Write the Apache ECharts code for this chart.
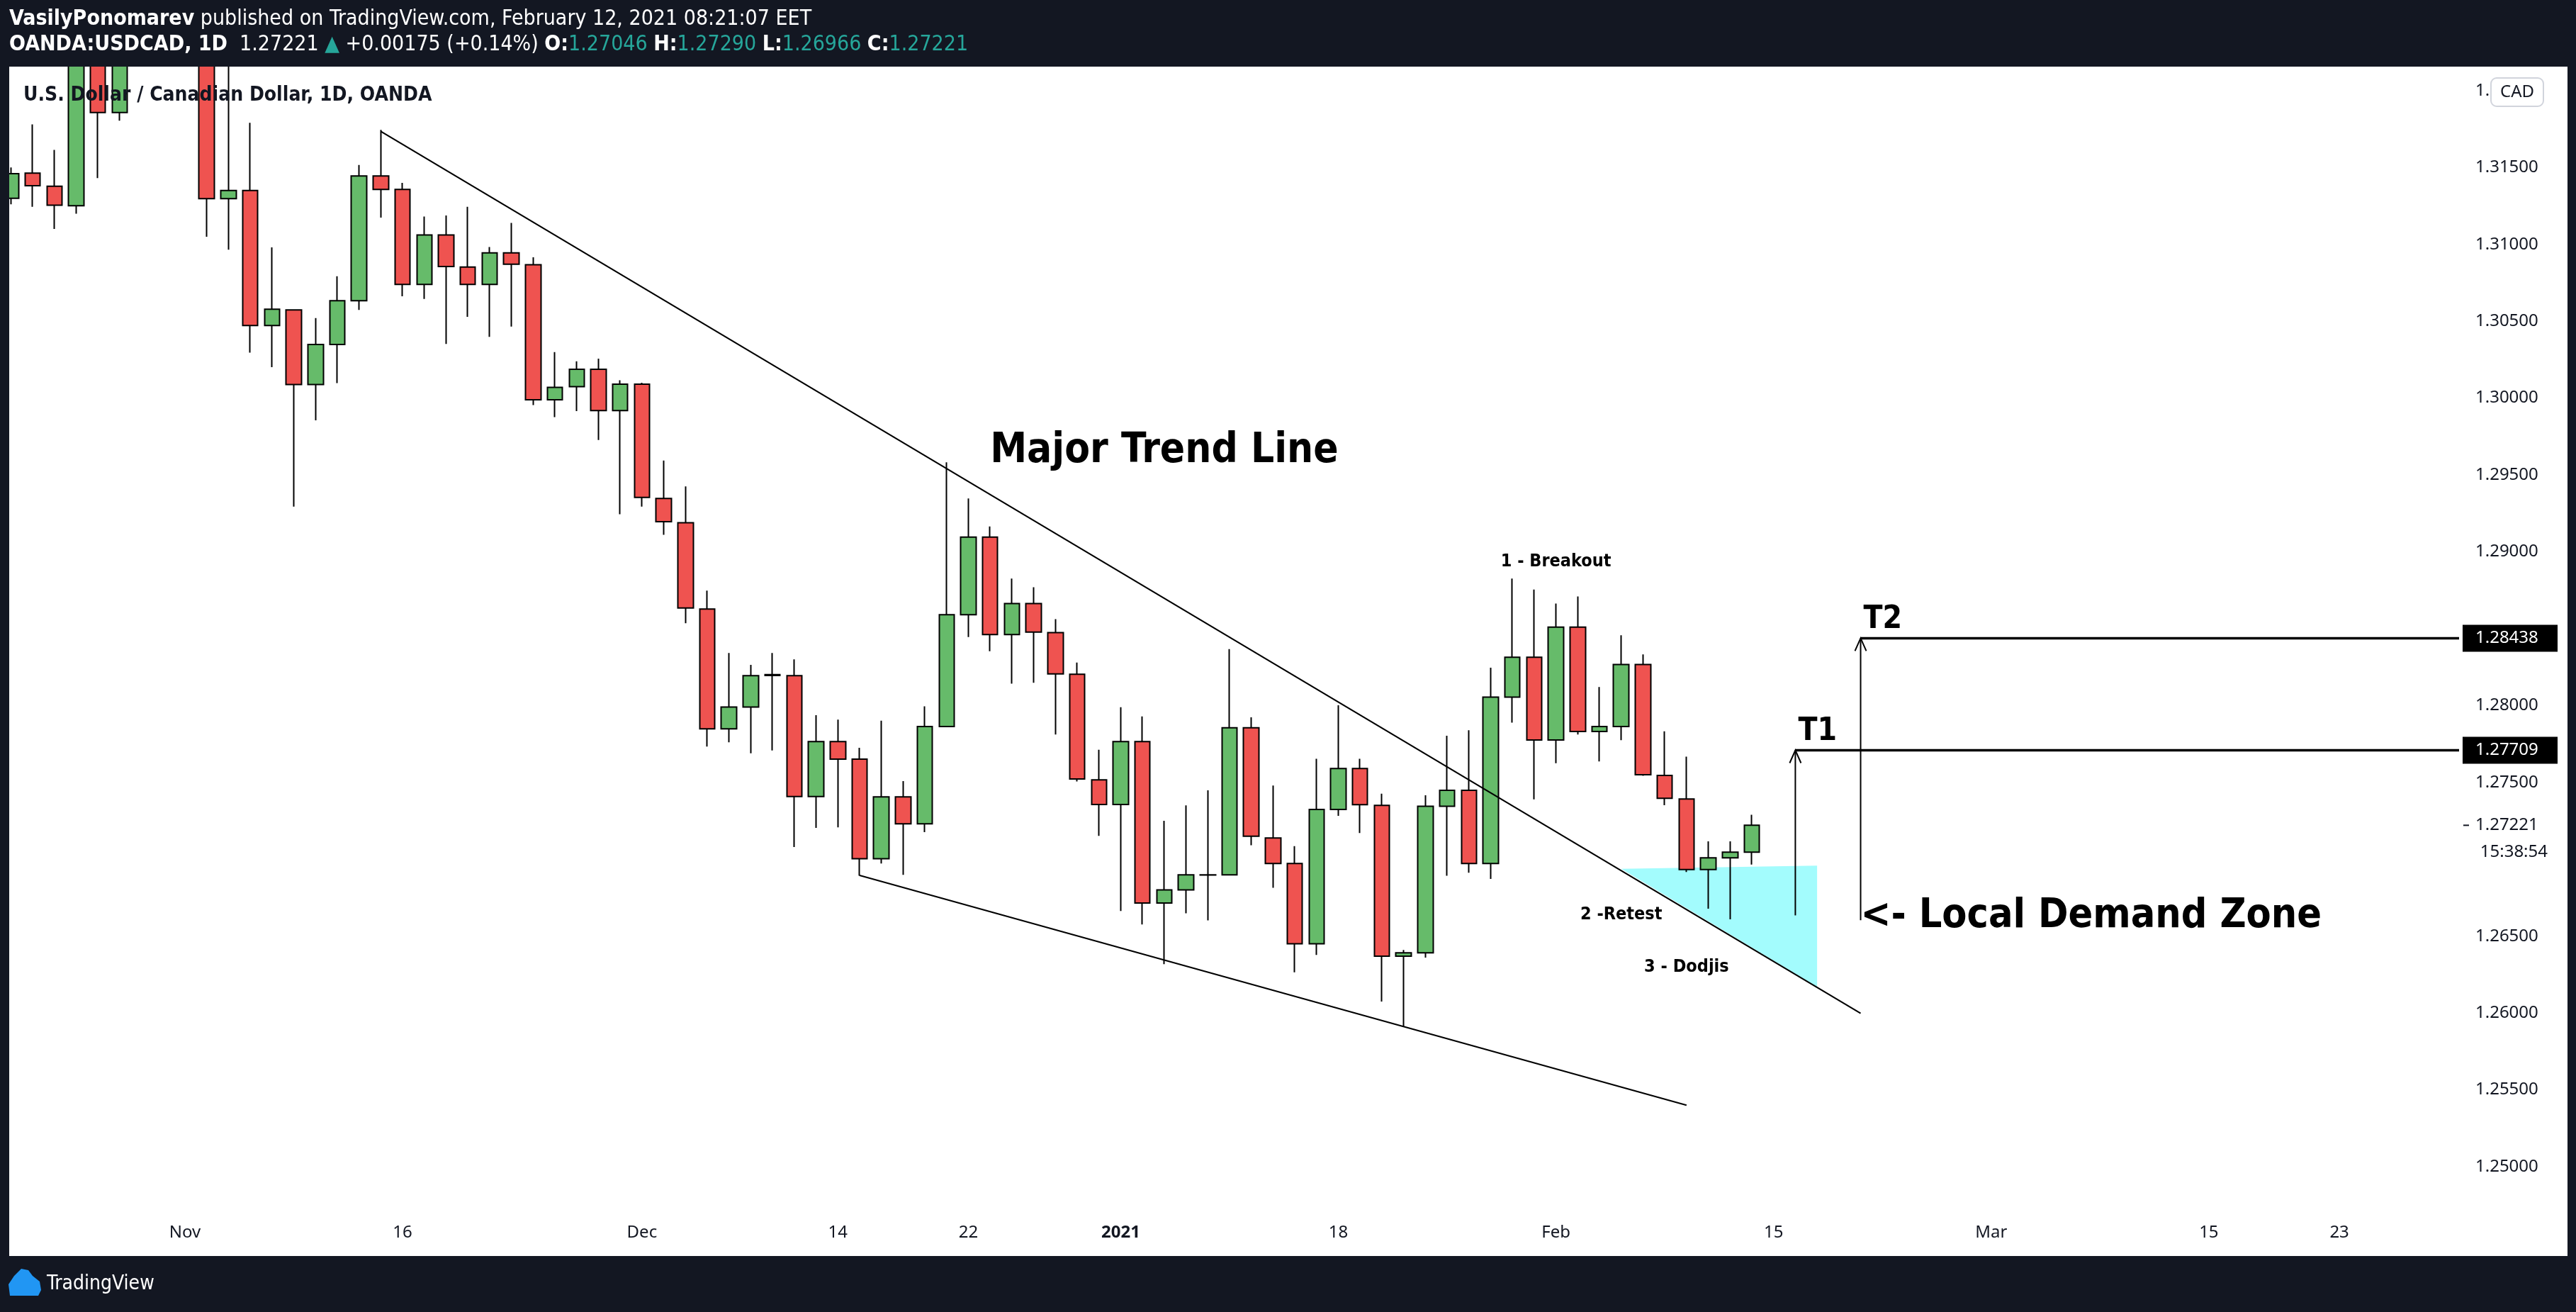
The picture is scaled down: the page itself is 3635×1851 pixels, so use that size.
<!DOCTYPE html>
<html><head><meta charset="utf-8">
<script src="https://cdn.jsdelivr.net/npm/echarts@6/dist/echarts.min.js"></script>
<style>html,body{margin:0;padding:0;background:#fff}#c{width:3635px;height:1851px}</style>
</head><body><div id="c"></div>
<script>
// ---- data ----
const opens  = [1.3130,1.31463,1.31378,1.31251,1.3265,1.31858,1.3268,1.3310,1.3320,1.3280,1.31297,1.31350,1.30472,1.30574,1.30088,1.30349,1.30634,1.31445,1.31357,1.30740,1.31061,1.30853,1.30740,1.30945,1.30867,1.29989,1.30074,1.30187,1.29919,1.30091,1.29347,1.29189,1.28628,1.27849,1.27990,1.28201,1.28194,1.27408,1.27766,1.27651,1.27004,1.27406,1.27231,1.27863,1.28591,1.29096,1.28462,1.28663,1.28475,1.28203,1.27517,1.27356,1.27765,1.26716,1.26801,1.26899,1.26899,1.27855,1.27139,1.26973,1.26450,1.27324,1.27590,1.27350,1.26370,1.26391,1.27345,1.27448,1.26973,1.28055,1.28314,1.27776,1.28510,1.27831,1.27863,1.28267,1.27545,1.27392,1.26933,1.27009,1.27046];
const closes = [1.3146,1.31382,1.31255,1.3245,1.31858,1.3270,1.3305,1.3325,1.3280,1.31297,1.31350,1.30472,1.30578,1.30088,1.30349,1.30634,1.31445,1.31357,1.30740,1.31061,1.30856,1.30740,1.30945,1.30871,1.29989,1.30070,1.30187,1.29919,1.30091,1.29354,1.29196,1.28635,1.27849,1.27990,1.28194,1.28195,1.27408,1.27766,1.27652,1.27004,1.27406,1.27231,1.27863,1.28591,1.29096,1.28462,1.28663,1.28478,1.28206,1.27522,1.27356,1.27765,1.26716,1.26801,1.26899,1.26897,1.27855,1.27150,1.26973,1.26450,1.27324,1.27590,1.27355,1.26370,1.26391,1.27345,1.27448,1.26973,1.28055,1.28314,1.27776,1.28510,1.27831,1.27863,1.28267,1.27550,1.27397,1.26933,1.27009,1.27046,1.27221];
const lows   = [1.3126,1.31244,1.31100,1.3120,1.31431,1.31805,1.3235,1.3262,1.3225,1.31050,1.30966,1.30296,1.30201,1.29294,1.29855,1.30098,1.30574,1.31174,1.30662,1.30645,1.30352,1.30529,1.30398,1.30465,1.29954,1.29876,1.29915,1.29728,1.29245,1.29294,1.29111,1.28536,1.27733,1.27761,1.27690,1.27708,1.27080,1.27204,1.27208,1.26893,1.26973,1.26899,1.27176,1.27863,1.28446,1.28354,1.28142,1.28148,1.27812,1.27506,1.27152,1.26664,1.26576,1.26318,1.26648,1.26603,1.26899,1.27091,1.26814,1.26265,1.26378,1.27282,1.27171,1.26075,1.25911,1.26360,1.26893,1.26912,1.26872,1.27889,1.27390,1.27625,1.27812,1.27637,1.27775,1.27543,1.27352,1.26917,1.26679,1.26609,1.26966];
const highs  = [1.3150,1.31780,1.31615,1.3258,1.3280,1.3290,1.3370,1.3345,1.3345,1.3300,1.3260,1.31791,1.30980,1.30574,1.30521,1.30793,1.31516,1.31745,1.31400,1.31181,1.31188,1.31244,1.30983,1.31139,1.30916,1.30299,1.30239,1.30257,1.30116,1.30100,1.29594,1.29425,1.28748,1.28342,1.28265,1.28342,1.28300,1.27937,1.27908,1.27725,1.27902,1.27509,1.27995,1.29582,1.29347,1.29165,1.28826,1.28769,1.28562,1.28280,1.27712,1.27989,1.27929,1.27250,1.27350,1.27448,1.28367,1.27923,1.27480,1.27086,1.27654,1.28002,1.27654,1.27427,1.26410,1.27416,1.27804,1.27839,1.28246,1.28826,1.28755,1.28663,1.28710,1.28121,1.28457,1.28333,1.27832,1.27667,1.27117,1.27117,1.27290];
const holidays = ['2020-12-25','2021-01-01'];
const firstDay = '2020-10-21', barCount = 113;
const xTickLabels = [['2020-11-02','Nov'],['2020-11-16','16'],['2020-12-01','Dec'],['2020-12-14','14'],['2020-12-22','22'],['2021-01-04','2021'],['2021-01-18','18'],['2021-02-01','Feb'],['2021-02-15','15'],['2021-03-01','Mar'],['2021-03-15','15'],['2021-03-23','23']];
const yTickValues = [1.25,1.255,1.26,1.265,1.275,1.28,1.29,1.295,1.30,1.305,1.31,1.315,1.32];
const lastPrice = 1.27221;

// ---- build categories ----
const dates = [];
{ let d = new Date(firstDay+'T00:00:00Z');
  while (dates.length < barCount) {
    const s = d.toISOString().slice(0,10), wd = d.getUTCDay();
    if (wd!==0 && wd!==6 && !holidays.includes(s)) dates.push(s);
    d.setUTCDate(d.getUTCDate()+1);
  } }
const labelMap = Object.fromEntries(xTickLabels);
const candleData = dates.map((d,i)=> i<opens.length ? [opens[i],closes[i],lows[i],highs[i]] : '-');

// drawing anchors in data space [barIndex, price]
const upperTrend = [[17.05,1.31735],[85.0,1.25998]];
const lowerTrend = [[39.0,1.26895],[77.0,1.25400]];
const zone = [[74.2,1.26938],[83.1,1.26959],[83.1,1.26170]];
const arrows = [{x:82,from:1.26635,to:1.27709,label:'T1'},{x:85,from:1.26604,to:1.28438,label:'T2'}];
const notes = [
  {t:'Major Trend Line',x:53.1,y:1.29652,size:58,bold:true,align:'center'},
  {t:'1 - Breakout',x:70.6,y:1.28936,size:25,bold:true,align:'center'},
  {t:'2 -Retest',x:73.9,y:1.26639,size:25,bold:true,align:'center'},
  {t:'3 - Dodjis',x:77.0,y:1.26297,size:25,bold:true,align:'center'},
  {t:'<- Local Demand Zone',x:85.35,y:1.26628,size:57,bold:true,align:'left'}
];
const FC = '"DejaVu Sans Condensed","DejaVu Sans",sans-serif';

const chart = echarts.init(document.getElementById('c'));
const GRID_RIGHT = 3470;
chart.setOption({
  backgroundColor:'#ffffff',
  animation:false,
  grid:{left:-4,right:3635-GRID_RIGHT,top:94,bottom:140,containLabel:false},
  xAxis:{type:'category',data:dates,boundaryGap:true,
    axisLine:{show:false},axisTick:{show:false},splitLine:{show:false},
    axisLabel:{interval:(i,v)=>labelMap[v]!==undefined,formatter:v=>labelMap[v]==='2021'?'{b|2021}':(labelMap[v]||''),
      color:'#131722',fontFamily:'Noto Sans',fontSize:24,margin:16,rich:{b:{fontWeight:'bold',fontFamily:'Noto Sans',fontSize:24,color:'#131722'}}}},
  yAxis:{type:'value',position:'right',min:1.247005,max:1.321562,scale:true,
    axisLine:{show:false},axisTick:{show:false},splitLine:{show:false},
    axisLabel:{customValues:yTickValues,formatter:v=>v.toFixed(5),color:'#131722',fontFamily:'Noto Sans',fontSize:24,margin:23,align:'left'}},
  series:[
    {type:'custom',z:1,clip:false,data:[[0,0]],renderItem:(p,api)=>({type:'polygon',shape:{points:zone.map(q=>api.coord(q))},style:{fill:'#a3fcfd'}})},
    {type:'candlestick',z:2,data:candleData,barWidth:22,
      itemStyle:{color:'#66bb6a',color0:'#ef5350',borderColor:'#000',borderColor0:'#000',borderColorDoji:'#000',borderWidth:2}},
    {type:'custom',z:3,clip:false,data:[[0,0]],renderItem:(p,api)=>{
      const cs=p.coordSys, right=cs.x+cs.width, ch=[];
      [upperTrend,lowerTrend].forEach(l=>{const a=api.coord(l[0]),b=api.coord(l[1]);
        ch.push({type:'line',shape:{x1:a[0],y1:a[1],x2:b[0],y2:b[1]},style:{stroke:'#000',lineWidth:2.2}});});
      arrows.forEach(ar=>{const a=api.coord([ar.x,ar.from]),b=api.coord([ar.x,ar.to]);
        ch.push({type:'line',shape:{x1:a[0],y1:a[1],x2:b[0],y2:b[1]},style:{stroke:'#000',lineWidth:2}});
        ch.push({type:'polyline',shape:{points:[[b[0]-8,b[1]+18],[b[0],b[1]],[b[0]+8,b[1]+18]]},style:{stroke:'#000',lineWidth:2,fill:null}});
        ch.push({type:'line',shape:{x1:b[0],y1:b[1],x2:right,y2:b[1]},style:{stroke:'#000',lineWidth:3.5}});
        ch.push({type:'text',style:{text:ar.label,x:b[0]+4,y:b[1]-4,font:'bold 44px '+FC,fill:'#000',align:'left',verticalAlign:'bottom'}});
        ch.push({type:'rect',shape:{x:right+5,y:b[1]-19,width:134,height:38},style:{fill:'#000'}});
        ch.push({type:'text',style:{text:ar.to.toFixed(5),x:right+23,y:b[1],font:'24px "Noto Sans"',fill:'#fff',align:'left',verticalAlign:'middle'}});
      });
      notes.forEach(n=>{const a=api.coord([n.x,n.y]);
        ch.push({type:'text',style:{text:n.t,x:a[0],y:a[1],font:(n.bold?'bold ':'')+n.size+'px '+FC,fill:'#000',align:n.align,verticalAlign:'middle'}});});
      const lp=api.coord([0,lastPrice]);
      ch.push({type:'line',shape:{x1:right+6,y1:lp[1],x2:right+14,y2:lp[1]},style:{stroke:'#131722',lineWidth:2}});
      ch.push({type:'text',style:{text:lastPrice.toFixed(5),x:right+23,y:lp[1],font:'24px "Noto Sans"',fill:'#131722',align:'left',verticalAlign:'middle'}});
      ch.push({type:'text',style:{text:'15:38:54',x:right+125,y:lp[1]+38,font:'24px "Noto Sans"',fill:'#131722',align:'right',verticalAlign:'middle'}});
      return {type:'group',children:ch};
    }}
  ],
  graphic:[
    {type:'rect',z:200,shape:{x:0,y:0,width:3635,height:94},style:{fill:'#131722'}},
    {type:'rect',z:200,shape:{x:0,y:1772,width:3635,height:79},style:{fill:'#131722'}},
    {type:'rect',z:200,shape:{x:0,y:0,width:13,height:1851},style:{fill:'#131722'}},
    {type:'rect',z:200,shape:{x:3623,y:0,width:12,height:1851},style:{fill:'#131722'}},
    {type:'text',z:201,x:13,y:27,style:{text:'{b|VasilyPonomarev} published on TradingView.com, February 12, 2021 08:21:07 EET',font:'30px '+FC,fill:'#fff',verticalAlign:'middle',
      rich:{b:{font:'bold 30px '+FC,fill:'#fff'}}}},
    {type:'text',z:201,x:13,y:63,style:{text:'{b|OANDA:USDCAD, 1D}  1.27221 {t|▲} +0.00175 (+0.14%) {b|O:}{t|1.27046} {b|H:}{t|1.27290} {b|L:}{t|1.26966} {b|C:}{t|1.27221}',font:'30px '+FC,fill:'#fff',verticalAlign:'middle',
      rich:{b:{font:'bold 30px '+FC,fill:'#fff'},t:{font:'30px '+FC,fill:'#26a69a'}}}},
    {type:'text',z:150,x:33,y:135,style:{text:'U.S. Dollar / Canadian Dollar, 1D, OANDA',font:'bold 28px '+FC,fill:'#131722',verticalAlign:'middle'}},
    {type:'rect',z:150,shape:{x:3515,y:110,width:74,height:40,r:8},style:{fill:'#fff',stroke:'#d1d4dc',lineWidth:2}},
    {type:'text',z:151,x:3552,y:130,style:{text:'CAD',font:'24px "Noto Sans"',fill:'#131722',align:'center',verticalAlign:'middle'}},
    {type:'polygon',z:201,shape:{points:[[14,1828],[12,1812],[20,1800],[30,1790],[40,1792],[46,1800],[56,1808],[58,1820],[54,1828]]},style:{fill:'#2196f3'}},
    {type:'text',z:201,x:66,y:1812,style:{text:'TradingView',font:'28px '+FC,fill:'#fff',verticalAlign:'middle'}}
  ]
});
</script></body></html>
